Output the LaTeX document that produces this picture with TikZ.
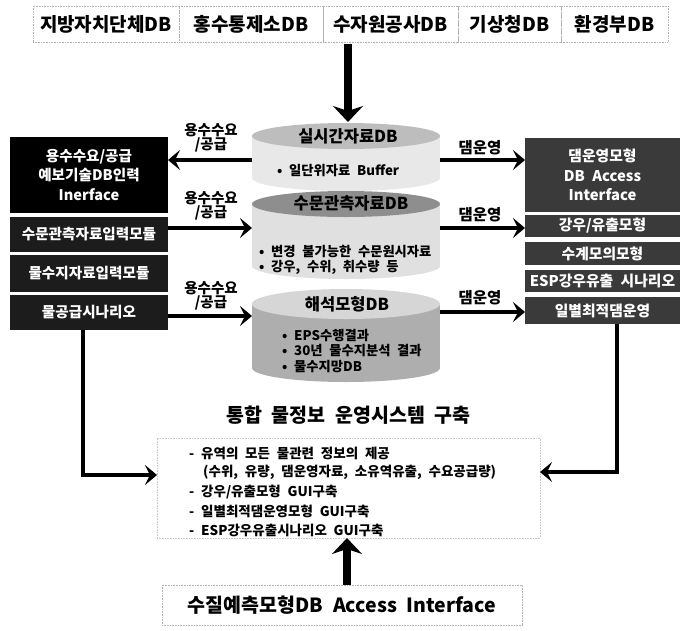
\documentclass[tikz,border=0pt]{standalone}
\usepackage{fontspec}
\setmainfont{Noto Sans CJK KR}[WordSpace=2.2]
\usetikzlibrary{arrows.meta}
\newcommand\fsz[2]{\fontsize{#1}{#2}\selectfont}
\definecolor{rdark}{HTML}{3A3A3A}
\definecolor{ldark}{HTML}{1C1C1C}
\definecolor{c1top}{HTML}{BDBDBD}
\definecolor{c1body}{HTML}{E8E8E8}
\definecolor{c2top}{HTML}{8E8E8E}
\definecolor{c2body}{HTML}{E0E0E0}
\definecolor{c3top}{HTML}{D6D6D6}
\definecolor{c3body}{HTML}{AEAEAE}
\begin{document}
\begin{tikzpicture}[x=1pt,y=-1pt,
  topbox/.style={draw=gray!60, densely dotted, line width=0.6pt, minimum height=36pt,
    inner sep=0pt, outer sep=0pt, font=\fsz{19}{19}\bfseries},
  lbox/.style={fill=black, text=white, inner sep=0pt, outer sep=0pt, minimum width=158pt,
    font=\fsz{14.6}{19.5}\bfseries, align=center},
  rbox/.style={fill=rdark, text=white, inner sep=0pt, outer sep=0pt, minimum width=155pt,
    font=\fsz{14.8}{19.5}\bfseries, align=center},
  arr/.style={line width=4.5pt, -{Stealth[length=12pt,width=20pt,inset=5pt]}},
  bigarr/.style={line width=7.5pt, -{Stealth[length=16pt,width=30pt,inset=5pt]}},
  lbl/.style={font=\fsz{14.5}{13.5}\bfseries, align=center, inner sep=0pt},
  dlbl/.style={font=\fsz{15.5}{15.5}\bfseries, inner sep=0pt},
  ctitle/.style={font=\fsz{16.5}{16.5}\bfseries, inner sep=0pt},
  cbul/.style={font=\fsz{13.3}{13.3}\bfseries, inner sep=0pt, anchor=west},
  itxt/.style={font=\fsz{13.5}{13.5}\bfseries, inner sep=0pt, anchor=west},
]
\useasboundingbox (0,0) rectangle (684,630);

% top row of sources
\node[topbox, minimum width=146pt] (t1) at (106,24) {지방자치단체DB};
\node[topbox, minimum width=144pt] (t2) at (251,24) {홍수통제소DB};
\node[topbox, minimum width=135pt] (t3) at (390.5,24) {수자원공사DB};
\node[topbox, minimum width=103pt] (t4) at (509.5,24) {기상청DB};
\node[topbox, minimum width=107pt] (t5) at (614.5,24) {환경부DB};

% cylinders
\fill[c1body] (252,136) rectangle (440,178);
\fill[c1body] (346,178) ellipse (94 and 13);
\fill[c1top] (346,136) ellipse (94 and 13);
\fill[c2body] (252,204) rectangle (440,266);
\fill[c2body] (346,266) ellipse (94 and 13);
\fill[c2top] (346,204) ellipse (94 and 13);
\fill[c3body] (252,304) rectangle (440,368);
\fill[c3body] (346,368) ellipse (94 and 14);
\fill[c3top] (346,304) ellipse (94 and 15);

\node[ctitle] (c1) at (348,136) {실시간자료DB};
\node[cbul] (c1a) at (277,171) {• 일단위자료 Buffer};
\node[ctitle] (c2) at (351,203) {수문관측자료DB};
\node[cbul] (c2a) at (259,252) {• 변경 불가능한 수문원시자료};
\node[cbul] (c2b) at (259,267) {• 강우, 수위, 취수량 등};
\node[ctitle] (c3) at (347,304) {해석모형DB};
\node[cbul] (c3a) at (282,336) {• EPS수행결과};
\node[cbul] (c3b) at (282,351) {• 30년 물수지분석 결과};
\node[cbul] (c3c) at (282,367) {• 물수지망DB};

% left boxes
\node[lbox, minimum height=76pt] (l1) at (89,175) {용수수요/공급\\예보기술DB인력\\Inerface};
\node[lbox, fill=ldark, minimum height=35pt] (l2) at (89,234.5) {수문관측자료입력모듈};
\node[lbox, fill=ldark, minimum height=37pt] (l3) at (89,273.5) {물수지자료입력모듈};
\node[lbox, fill=ldark, minimum height=35pt] (l4) at (89,312.5) {물공급시나리오};

% right boxes
\node[rbox, minimum height=74pt] (r1) at (602.5,175) {댐운영모형\\DB Access\\Interface};
\node[rbox, minimum height=22pt] (r2) at (602.5,226) {강우/유출모형};
\node[rbox, minimum height=23pt] (r3) at (602.5,253.5) {수계모의모형};
\node[rbox, minimum height=22pt] (r4) at (602.5,280.5) {ESP강우유출 시나리오};
\node[rbox, minimum height=27pt] (r5) at (602.5,310.5) {일별최적댐운영};

% arrow end points on the cylinders
\coordinate (cl1) at (252,160);
\coordinate (cl2) at (252,228);
\coordinate (cl3) at (252,316);
\coordinate (cr1) at (440,160);
\coordinate (cr2) at (440,228);
\coordinate (cr3) at (440,312);

% left arrows and labels
\draw[arr] (cl1) -- (l1.east |- cl1);
\draw[arr] (l2.east |- cl2) -- (cl2);
\draw[arr] (l4.east |- cl3) -- (cl3);
\node[lbl] (la1) at (211,138) {용수수요\\/공급};
\node[lbl] (la2) at (211,206) {용수수요\\/공급};
\node[lbl] (la3) at (211,296) {용수수요\\/공급};

% right arrows and labels
\draw[arr] (cr1) -- (r1.west |- cr1);
\draw[arr] (cr2) -- (r2.west |- cr2);
\draw[arr] (cr3) -- (r5.west |- cr3);
\node[dlbl] (ra1) at (480,148) {댐운영};
\node[dlbl] (ra2) at (480,215) {댐운영};
\node[dlbl] (ra3) at (480,298) {댐운영};

% top arrow
\coordinate (tin) at (348,44);
\coordinate (c1in) at (348,122);
\draw[bigarr] (tin) -- (c1in);

% title and info box
\node[font=\fsz{19.5}{19.5}\bfseries, inner sep=0pt] (title) at (348.5,415) {통합 물정보 운영시스템 구축};
\node[draw=gray!45, densely dotted, line width=0.6pt, minimum width=383pt, minimum height=100pt,
      inner sep=0pt, outer sep=0pt] (info) at (348.5,488) {};
\node[itxt] (i1) at (189,453) {- 유역의 모든 물관련 정보의 제공};
\node[itxt] (i2) at (203,472) {(수위, 유량, 댐운영자료, 소유역유출, 수요공급량)};
\node[itxt] (i3) at (189,492) {- 강우/유출모형 GUI구축};
\node[itxt] (i4) at (189,511) {- 일별최적댐운영모형 GUI구축};
\node[itxt] (i5) at (189,530) {- ESP강우유출시나리오 GUI구축};

% L-shaped arrows to the info box
\coordinate (lfoot) at (83,475);
\coordinate (rfoot) at (617,472);
\draw[arr, line join=miter] (l4.south -| lfoot) -- (lfoot) -- (info.west |- lfoot);
\draw[arr, line join=miter] (r5.south -| rfoot) -- (rfoot) -- (info.east |- rfoot);

% bottom box and arrow
\node[draw=gray!60, densely dotted, line width=0.6pt, minimum width=360pt, minimum height=40pt,
      inner sep=0pt, outer sep=0pt, font=\fsz{19.5}{19.5}\bfseries] (bb) at (342,605)
      {수질예측모형DB Access Interface};
\coordinate (bbup) at (347,585);
\draw[bigarr] (bbup) -- (info.south -| bbup);
\end{tikzpicture}
\end{document}
